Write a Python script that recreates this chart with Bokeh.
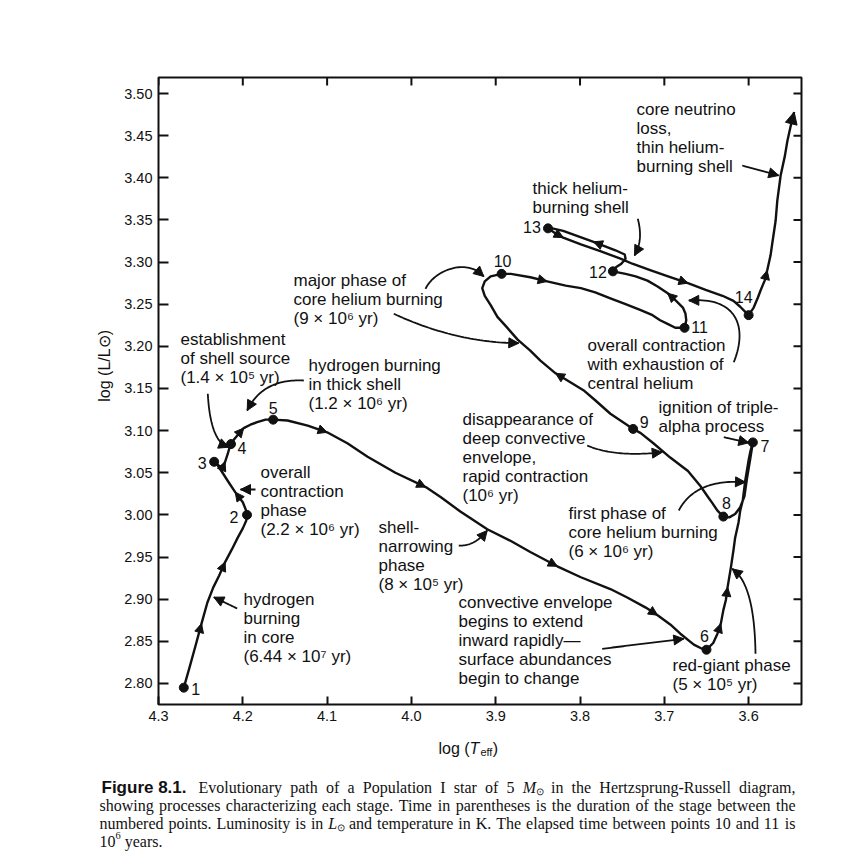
import re
import numpy as np
from bokeh.plotting import figure
from bokeh.layouts import row, column
from bokeh.models import (Range1d, LinearAxis, FixedTicker, NumeralTickFormatter,
                          Arrow, NormalHead, ColumnDataSource)
from bokeh.core.properties import value
from bokeh.embed import file_html
from bokeh.resources import INLINE

# ---------------------------------------------------------------------------
# Evolutionary track of a 5 Msun Population I star (log Teff, log L/Lsun),
# listed in the order the star moves along it.
# ---------------------------------------------------------------------------
track_logT = [
    4.270, 4.264, 4.256, 4.249, 4.242, 4.235, 4.228, 4.221, 4.213, 4.206, 4.200, 4.196, 4.195,
    4.196, 4.200, 4.209, 4.217, 4.224, 4.230, 4.234,
    4.229, 4.224, 4.221, 4.218, 4.216, 4.214,
    4.210, 4.205, 4.199, 4.191, 4.183, 4.173, 4.164,
    4.147, 4.123, 4.100, 4.076, 4.052, 4.019, 3.983, 3.965, 3.942, 3.910, 3.882, 3.859,
    3.827, 3.799, 3.764, 3.744, 3.722, 3.708, 3.693, 3.681, 3.665, 3.657, 3.650,
    3.642, 3.637, 3.633, 3.630, 3.627, 3.625, 3.621, 3.618, 3.616, 3.612, 3.610, 3.607,
    3.604, 3.600, 3.598, 3.595,
    3.598, 3.602, 3.605, 3.610, 3.616, 3.623, 3.630,
    3.637, 3.643, 3.648, 3.657, 3.672, 3.693, 3.713, 3.728, 3.737,
    3.764, 3.782, 3.796, 3.811, 3.829, 3.847, 3.859, 3.874, 3.888, 3.898, 3.906, 3.913,
    3.916, 3.913, 3.906, 3.893,
    3.882, 3.859, 3.839, 3.817, 3.799, 3.782, 3.764, 3.746, 3.728, 3.714, 3.705, 3.695,
    3.687, 3.676,
    3.674, 3.675, 3.678, 3.686, 3.696, 3.708, 3.720, 3.734, 3.746, 3.761,
    3.757, 3.751, 3.746, 3.747, 3.758, 3.784, 3.820, 3.833, 3.838,
    3.829, 3.820, 3.799, 3.776, 3.752, 3.738, 3.716, 3.693, 3.672, 3.651, 3.631, 3.618,
    3.610, 3.604, 3.600,
    3.594, 3.589, 3.586, 3.581, 3.578, 3.574, 3.572, 3.568, 3.566, 3.562, 3.557, 3.554,
    3.550, 3.546,
]
track_logL = [
    2.795, 2.816, 2.845, 2.871, 2.896, 2.914, 2.928, 2.944, 2.959, 2.973, 2.984, 2.993, 3.000,
    3.005, 3.015, 3.027, 3.039, 3.050, 3.059, 3.063,
    3.059, 3.056, 3.063, 3.072, 3.079, 3.084,
    3.090, 3.096, 3.103, 3.107, 3.110, 3.113, 3.113,
    3.112, 3.106, 3.098, 3.085, 3.069, 3.050, 3.033, 3.021, 3.004, 2.983, 2.969, 2.956,
    2.939, 2.926, 2.912, 2.902, 2.890, 2.881, 2.870, 2.859, 2.846, 2.842, 2.840,
    2.848, 2.859, 2.871, 2.887, 2.899, 2.914, 2.938, 2.958, 2.973, 2.991, 3.005, 3.017,
    3.041, 3.065, 3.075, 3.086,
    3.067, 3.043, 3.022, 3.009, 3.001, 2.997, 2.998,
    3.005, 3.014, 3.021, 3.034, 3.052, 3.068, 3.085, 3.097, 3.102,
    3.120, 3.136, 3.148, 3.157, 3.168, 3.183, 3.195, 3.208, 3.224, 3.235, 3.249, 3.260,
    3.269, 3.277, 3.283, 3.286,
    3.286, 3.282, 3.277, 3.272, 3.269, 3.264, 3.257, 3.250, 3.243, 3.237, 3.231, 3.226,
    3.222, 3.222,
    3.231, 3.239, 3.246, 3.254, 3.263, 3.271, 3.278, 3.283, 3.286, 3.289,
    3.294, 3.298, 3.304, 3.309, 3.314, 3.324, 3.337, 3.340, 3.340,
    3.334, 3.329, 3.321, 3.313, 3.304, 3.298, 3.290, 3.282, 3.275, 3.267, 3.260, 3.254,
    3.247, 3.241, 3.237,
    3.246, 3.258, 3.266, 3.278, 3.290, 3.308, 3.322, 3.349, 3.373, 3.403, 3.426, 3.444,
    3.462, 3.478,
]

# numbered stages along the track
stage_labels = ["1", "2", "3", "4", "5", "6", "7", "8", "9", "10", "11", "12", "13", "14"]
stage_logT = [4.270, 4.195, 4.234, 4.214, 4.164, 3.650, 3.595, 3.630, 3.737, 3.893,
              3.676, 3.761, 3.838, 3.600]
stage_logL = [2.795, 3.000, 3.063, 3.084, 3.113, 2.840, 3.086, 2.998, 3.102, 3.286,
              3.222, 3.289, 3.340, 3.237]

# track points that carry a direction-of-evolution arrowhead
arrow_idx = [3, 7, 15, 22, 28, 35, 39, 45, 50, 58, 61, 92, 106, 122, 133, 138, 145, 156]

x_ticks = [4.3, 4.2, 4.1, 4.0, 3.9, 3.8, 3.7, 3.6]
y_ticks = [2.80, 2.85, 2.90, 2.95, 3.00, 3.05, 3.10, 3.15, 3.20, 3.25, 3.30, 3.35,
           3.40, 3.45, 3.50]

# ---------------------------------------------------------------------------
# page geometry (canvas pixels)
# ---------------------------------------------------------------------------
W, H = 855, 858
LEFT_W = 120                 # strip holding the vertical axis title
TOP_H = 735                  # chart row height; caption strip below
FL, FR, FT, FB = 158, 801, 77, 704          # frame edges on the page
XA, XB = 4.3, 3.5373                         # temperature axis runs right-to-left
YA, YB = 2.775, 3.519

SANS = "Liberation Sans"
SERIF = "Liberation Serif"
INK = "#111111"


def sx(px):
    return float(XA + (px - FL) * (XB - XA) / (FR - FL))


def sy(py):
    return float(YB - (py - FT) * (YB - YA) / (FB - FT))


# ---------------------------------------------------------------------------
# main chart
# ---------------------------------------------------------------------------
p = figure(width=W - LEFT_W, height=TOP_H, x_range=Range1d(XA, XB), y_range=Range1d(YA, YB),
           x_axis_type=None, y_axis_type=None, output_backend="svg",
           toolbar_location=None, min_border_left=FL - LEFT_W, min_border_right=W - FR,
           min_border_top=FT, min_border_bottom=TOP_H - FB)
p.background_fill_color = "white"
p.border_fill_color = "white"
p.outline_line_color = INK
p.outline_line_width = 2


def add_axis(side, ticks, fmt, tick_in):
    ax = LinearAxis(ticker=FixedTicker(ticks=ticks),
                    formatter=NumeralTickFormatter(format=fmt))
    ax.axis_line_color = None
    ax.major_tick_in = tick_in
    ax.major_tick_out = 0
    ax.major_tick_line_color = INK
    ax.major_tick_line_width = 2
    ax.minor_tick_line_color = None
    ax.major_label_text_font = SANS
    ax.major_label_text_font_size = "14.5px"
    ax.major_label_text_color = INK
    ax.major_label_standoff = 6
    p.add_layout(ax, side)


add_axis("below", x_ticks, "0.0", 8)
add_axis("left", y_ticks, "0.00", 10)

# inward ticks along the top and right edges of the box
ppx = (XA - XB) / (FR - FL)      # data units per pixel, horizontal
ppy = (YB - YA) / (FB - FT)      # data units per pixel, vertical
p.segment(x0=x_ticks, x1=x_ticks, y0=[YB] * len(x_ticks), y1=[YB - 8 * ppy] * len(x_ticks),
          line_color=INK, line_width=2)
p.segment(x0=[XB] * len(y_ticks), x1=[XB + 8 * ppx] * len(y_ticks), y0=y_ticks, y1=y_ticks,
          line_color=INK, line_width=2)

# the track, its direction arrows and the numbered stages
p.line(track_logT, track_logL, line_color=INK, line_width=2.4, line_join="round")

for i in arrow_idx:
    p.add_layout(Arrow(end=NormalHead(size=9, fill_color=INK, line_color=INK, line_width=1),
                       x_start=track_logT[i - 1], y_start=track_logL[i - 1],
                       x_end=track_logT[i], y_end=track_logL[i], line_alpha=0))
p.add_layout(Arrow(end=NormalHead(size=12, fill_color=INK, line_color=INK, line_width=1),
                   x_start=track_logT[-2], y_start=track_logL[-2],
                   x_end=track_logT[-1], y_end=track_logL[-1], line_alpha=0))

p.scatter(stage_logT, stage_logL, marker="circle", size=9, color=INK)

num_dx = [12, -13, -12, 11, 0, -2, 12, 3, 11, 1, 15, -15, -16, -5]
num_dy = [1, 2, 1, 4, -12, -14, 4, -14, -7, -13, -1, 1, -1, -18]
p.text(x=stage_logT, y=stage_logL, text=stage_labels, x_offset=num_dx, y_offset=num_dy,
       text_font=value(SANS), text_font_size="16px", text_align="center",
       text_baseline="middle", text_color=INK)

# process notes (left edge, first-line centre, lines) in page pixels
notes = [
    (243, 599, ["hydrogen", "burning", "in core", "(6.44 × 10⁷ yr)"]),
    (260, 472, ["overall", "contraction", "phase", "(2.2 × 10⁶ yr)"]),
    (180, 339, ["establishment", "of shell source", "(1.4 × 10⁵ yr)"]),
    (308, 365, ["hydrogen burning", "in thick shell", "(1.2 × 10⁶ yr)"]),
    (378, 527, ["shell-", "narrowing", "phase", "(8 × 10⁵ yr)"]),
    (458, 602, ["convective envelope", "begins to extend", "inward rapidly—",
                "surface abundances", "begin to change"]),
    (672, 665, ["red-giant phase", "(5 × 10⁵ yr)"]),
    (568, 513, ["first phase of", "core helium burning", "(6 × 10⁶ yr)"]),
    (658, 407, ["ignition of triple-", "alpha process"]),
    (462, 419, ["disappearance of", "deep convective", "envelope,",
                "rapid contraction", "(10⁶ yr)"]),
    (587, 345, ["overall contraction", "with exhaustion of", "central helium"]),
    (293, 280, ["major phase of", "core helium burning", "(9 × 10⁶ yr)"]),
    (532, 188, ["thick helium-", "burning shell"]),
    (636, 109, ["core neutrino", "loss,", "thin helium-", "burning shell"]),
]
rows = dict(x=[], y=[], text=[])
for x0, y0, lines in notes:
    for k, s in enumerate(lines):
        rows["x"].append(sx(x0))
        rows["y"].append(sy(y0 + 19 * k))
        rows["text"].append(s)
p.text(x="x", y="y", text="text", source=ColumnDataSource(rows),
       text_font=value(SANS), text_font_size="17px", text_align="left",
       text_baseline="middle", text_color=INK)

# leader curves from each note to the track (start, controls..., tip) in page pixels
leaders = [
    [(236.7, 608.0), (213.3, 596.7)],
    [(255.0, 489.0), (240.0, 489.0)],
    [(207.3, 393.3), (210.0, 442.0), (228.3, 446.7)],
    [(303.3, 380.0), (262.0, 378.0), (246.7, 410.0)],
    [(458.3, 545.0), (474.0, 546.0), (486.7, 530.0)],
    [(601.7, 648.3), (683.3, 638.3)],
    [(755.0, 653.3), (754.0, 583.0), (731.7, 568.3)],
    [(678.3, 510.0), (695.0, 478.0), (745.0, 481.7)],
    [(723.3, 436.7), (748.3, 442.3)],
    [(586.7, 445.0), (615.0, 457.0), (661.7, 451.7)],
    [(733.3, 361.7), (748.0, 325.0), (735.0, 296.0), (688.3, 300.0)],
    [(425.0, 288.3), (435.0, 268.0), (468.0, 258.0), (483.3, 276.0)],
    [(393.3, 313.3), (455.0, 342.0), (518.3, 342.7)],
    [(637.3, 218.3), (643.0, 240.0), (634.0, 255.0)],
    [(741.7, 165.0), (778.3, 175.0)],
]


def curve(pts, n=40):
    P = np.array(pts, float)
    t = np.linspace(0.0, 1.0, n)[:, None]
    if len(P) == 2:
        C = P[0] + (P[1] - P[0]) * t
    elif len(P) == 3:
        C = (1 - t) ** 2 * P[0] + 2 * t * (1 - t) * P[1] + t ** 2 * P[2]
    else:
        C = ((1 - t) ** 3 * P[0] + 3 * t * (1 - t) ** 2 * P[1]
             + 3 * t ** 2 * (1 - t) * P[2] + t ** 3 * P[3])
    return C[:, 0], C[:, 1]


for pts in leaders:
    cx, cy = curve(pts)
    xs = [sx(v) for v in cx]
    ys = [sy(v) for v in cy]
    p.line(xs, ys, line_color=INK, line_width=1.8)
    p.add_layout(Arrow(end=NormalHead(size=10, fill_color=INK, line_color=INK, line_width=1),
                       x_start=xs[-5], y_start=ys[-5], x_end=xs[-1], y_end=ys[-1],
                       line_alpha=0))


# ---------------------------------------------------------------------------
# text strips: vertical axis title (left) and axis title + caption (bottom)
# ---------------------------------------------------------------------------
def text_strip(width, height):
    f = figure(width=width, height=height, x_range=Range1d(0, width),
               y_range=Range1d(0, height), x_axis_type=None, y_axis_type=None,
               output_backend="svg", toolbar_location=None, min_border=0)
    f.outline_line_color = None
    f.background_fill_color = "white"
    f.border_fill_color = "white"
    return f


left = text_strip(LEFT_W, TOP_H)
bottom = text_strip(W, H - TOP_H)


def put(fig, px, py, y_top, txt, fs, style="normal", font=SANS, angle=0.0,
        align="left", baseline="alphabetic"):
    fig.text(x=[px], y=[y_top - py], text=[txt], text_font=value(font),
             text_font_size=f"{fs}px", text_font_style=style, text_color=INK,
             text_align=align, text_baseline=baseline, angle=angle)


ARIAL = {'l': 222, 'o': 556, 'g': 556, ' ': 278, '(': 333, ')': 333, 'T': 611,
         'e': 556, 'f': 278}


def arial_w(s, fs):
    return sum(ARIAL.get(c, 556) for c in s) / 1000.0 * fs


# log (L/L_sun), reading upward
put(left, 104, 338, TOP_H, "log (L/L⊙)", 16, angle=np.pi / 2,
    align="center", baseline="middle")

# log (T_eff) under the frame
Y_TOP = H   # page y of the strip's bottom edge
xpos, base = 438.0, 748.0
for txt, fs, style, shift in [("log (", 16, "normal", 0), ("T", 16, "italic", 0),
                              ("eff", 11, "normal", 3), (")", 16, "normal", 0)]:
    put(bottom, xpos, base + shift, Y_TOP, txt, fs, style)
    xpos += arial_w(txt, fs) + (1.0 if style == "italic" else 0.0)

# caption: justified serif lines
TIMES = {' ': 250, 'a': 444, 'b': 500, 'c': 444, 'd': 500, 'e': 444, 'f': 333, 'g': 500,
         'h': 500, 'i': 278, 'j': 278, 'k': 500, 'l': 278, 'm': 778, 'n': 500, 'o': 500,
         'p': 500, 'q': 500, 'r': 333, 's': 389, 't': 278, 'u': 500, 'v': 500, 'w': 722,
         'x': 500, 'y': 500, 'z': 444, 'A': 722, 'B': 667, 'C': 667, 'D': 722, 'E': 611,
         'F': 556, 'G': 722, 'H': 722, 'I': 333, 'J': 389, 'K': 722, 'L': 611, 'M': 889,
         'N': 722, 'O': 722, 'P': 556, 'Q': 722, 'R': 667, 'S': 556, 'T': 611, 'U': 722,
         'V': 722, 'W': 944, 'X': 722, 'Y': 722, 'Z': 611, '.': 250, ',': 250, '-': 333,
         '(': 333, ')': 333, '⊙': 700}
TIMES_IT = {'M': 833, 'L': 556}
CAP_FS = 16


def runs_of(word):
    out = []
    for m in re.finditer(r"\*([^*]+)\*|_(.)|\^(.)|([^*_^]+)", word):
        if m.group(1):
            out.append((m.group(1), "italic", 1.0, 0))
        elif m.group(2):
            out.append((m.group(2), "normal", 0.6, 4))
        elif m.group(3):
            out.append((m.group(3), "normal", 0.65, -6))
        else:
            out.append((m.group(4), "normal", 1.0, 0))
    return out


def run_w(run):
    txt, style, f, _ = run
    table = TIMES_IT if style == "italic" else {}
    return sum(table.get(c, TIMES.get(c, 500)) for c in txt) / 1000.0 * CAP_FS * f


caption = [
    ("Evolutionary path of a Population I star of 5 *M*_⊙ in the Hertzsprung-Russell diagram,",
     198, 787, True),
    ("showing processes characterizing each stage. Time in parentheses is the duration of the stage between the",
     99, 805, True),
    ("numbered points. Luminosity is in *L*_⊙ and temperature in K. The elapsed time between points 10 and 11 is",
     99, 823, True),
    ("10^6 years.", 99, 841, False),
]
CAP_RIGHT = 795

put(bottom, 101, 787, Y_TOP, "Figure 8.1.", 17, "bold")
for text, x_left, base, justify in caption:
    words = [runs_of(w) for w in text.split(" ")]
    widths = [sum(run_w(r) for r in w) for w in words]
    if justify and len(words) > 1:
        gap = (CAP_RIGHT - x_left - sum(widths)) / (len(words) - 1)
    else:
        gap = TIMES[' '] / 1000.0 * CAP_FS
    xpos = x_left
    for w, wd in zip(words, widths):
        rx = xpos
        for r in w:
            txt, style, f, shift = r
            put(bottom, rx, base + shift, Y_TOP, txt, round(CAP_FS * f, 1), style, font=SERIF)
            rx += run_w(r)
        xpos += wd + gap

page = column(row(left, p, spacing=0), bottom, spacing=0)
open("out.html", "w").write(file_html(page, INLINE))
